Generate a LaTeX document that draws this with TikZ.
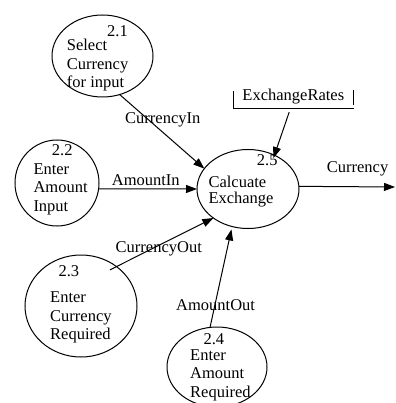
\documentclass[tikz,border=0pt]{standalone}
\usepackage{fontspec}
\setmainfont{Liberation Serif}
\usetikzlibrary{shapes.geometric,arrows.meta,calc}

% left-aligned stack of lines whose first baseline is the node's base
\newcommand\dfdlines[1]{\begin{tabular}[t]{@{}l@{}}#1\end{tabular}}

\begin{document}
\begin{tikzpicture}[x=1pt,y=-1pt,
  proc/.style={draw,ellipse,line width=1pt,inner sep=0pt,outer sep=0pt},
  txt/.style={anchor=base west,inner sep=0pt,font=\fontsize{16.5}{18.5}\selectfont},
  flow/.style={line width=1pt,-{Triangle[length=11pt,width=8pt]}},
  storebox/.style={inner sep=0pt,minimum width=120pt,text height=9pt,text depth=8pt,
    font=\fontsize{16.5}{18}\selectfont}]
  \fill[white] (0,0) rectangle (395,403);
  \useasboundingbox (0,0) rectangle (395,403);

  % processes
  \node[proc,minimum width=101pt,minimum height=82pt] (e21) at (102.5,56) {};
  \node[proc,minimum width=84pt,minimum height=86pt] (e22) at (57,183) {};
  \node[proc,minimum width=112pt,minimum height=102pt] (e23) at (81,306) {};
  \node[proc,minimum width=100pt,minimum height=80pt] (e24) at (217,367) {};
  \node[proc,minimum width=102pt,minimum height=79pt] (e25) at (248,189) {};

  % process numbers and names
  \node[txt] (n21) at (107,36.7) {2.1};
  \node[txt] (t21) at (66.7,50.7) {\dfdlines{Select\\Currency\\for input}};
  \node[txt] (n22) at (51.7,156) {2.2};
  \node[txt] (t22) at (33.3,174.3) {\dfdlines{Enter\\Amount\\Input}};
  \node[txt] (n23) at (58.3,276.7) {2.3};
  \node[txt] (t23) at (50,302.7) {\dfdlines{Enter\\Currency\\Required}};
  \node[txt] (n24) at (203.3,344.3) {2.4};
  \node[txt] (t24) at (190,360) {\dfdlines{Enter\\Amount\\Required}};
  \node[txt] (n25) at (256.7,166) {2.5};
  \node[txt,font=\fontsize{16.5}{16.3}\selectfont] (t25) at (208.3,187.5) {\dfdlines{Calcuate\\Exchange}};

  % data store
  \node[storebox] (store) at (293.3,100.2) {ExchangeRates};
  \draw[line width=1pt] (store.north west) -- (store.south west) -- (store.south east);
  \draw[line width=1pt] ($(store.north east)+(0,-1.7)$) -- ($(store.south east)+(0,-3.7)$);

  % data flows
  \coordinate (out) at (395,187);
  \draw[flow] (e21.-66) -- (e25.155);
  \draw[flow] (e22.-8) -- (e25.180);
  \draw[flow,shorten <=-7.4pt] (e23.48) -- (e25.220);
  \draw[flow,shorten >=3pt] (e24.100) -- (e25.247);
  \draw[flow,shorten <=3.5pt,shorten >=-3pt] ($(store.south)+(-3,0)$) -- (e25.52);
  \draw[flow] (e25.3) -- (out);

  % flow labels
  \node[txt] (lci) at (125,124) {CurrencyIn};
  \node[txt] (lai) at (111.7,185) {AmountIn};
  \node[txt] (lco) at (115.5,252.5) {CurrencyOut};
  \node[txt] (lao) at (176,310) {AmountOut};
  \node[txt] (lcu) at (326.7,172.7) {Currency};
\end{tikzpicture}
\end{document}
